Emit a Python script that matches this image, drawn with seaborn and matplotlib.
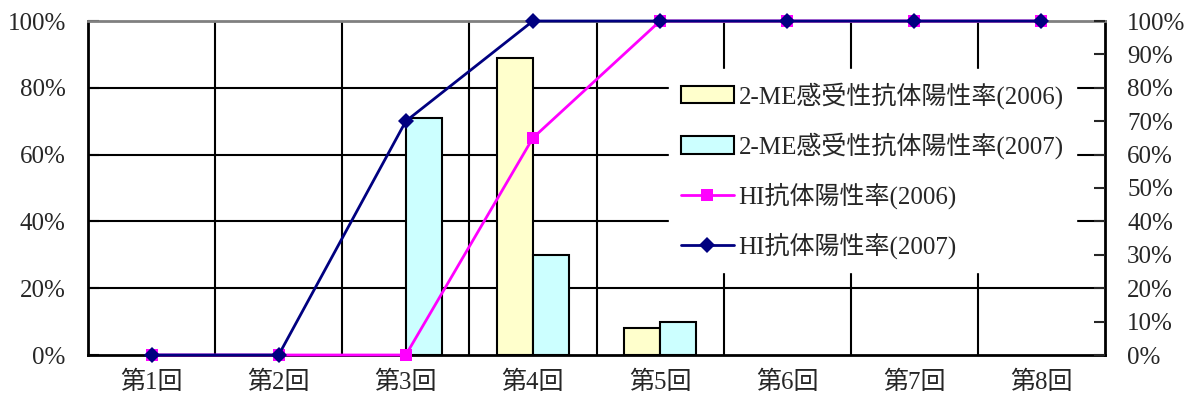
import numpy as np
import pandas as pd
import matplotlib
matplotlib.use("Agg")
import matplotlib.pyplot as plt
from matplotlib.ticker import PercentFormatter, FixedLocator
import seaborn as sns

# データ
rounds = ["第1回", "第2回", "第3回", "第4回", "第5回", "第6回", "第7回", "第8回"]
me_labels = ["2-ME感受性抗体陽性率(2006)", "2-ME感受性抗体陽性率(2007)"]
me_2006 = [np.nan, np.nan, np.nan, 89, 8, np.nan, np.nan, np.nan]
me_2007 = [np.nan, np.nan, 71, 30, 10, np.nan, np.nan, np.nan]
hi_labels = ["HI抗体陽性率(2006)", "HI抗体陽性率(2007)"]
hi_2006 = [0, 0, 0, 65, 100, 100, 100, 100]
hi_2007 = [0, 0, 70, 100, 100, 100, 100, 100]

sns.set_style("white")
plt.rcParams["font.family"] = ["Liberation Serif", "Noto Sans CJK JP"]
plt.rcParams["font.size"] = 18

df = pd.DataFrame({
    "round": rounds * 2,
    "series": [me_labels[0]] * len(rounds) + [me_labels[1]] * len(rounds),
    "value": me_2006 + me_2007,
}).dropna()

fig, ax = plt.subplots(figsize=(11.93, 4.03), dpi=100)
fig.subplots_adjust(left=88 / 1193, right=1105 / 1193, bottom=48 / 403, top=382 / 403)

sns.barplot(data=df, x="round", y="value", hue="series", order=rounds,
            hue_order=me_labels, palette=["#FFFFCC", "#CCFFFF"], saturation=1,
            width=0.57, errorbar=None, edgecolor="black", linewidth=1.5,
            ax=ax, zorder=3)
bar_h, bar_l = ax.get_legend_handles_labels()
ax.get_legend().remove()

ax.set_ylim(0, 100)
ax.set_xlim(-0.5, len(rounds) - 0.5)
ax.set_xlabel("")
ax.set_ylabel("")
ax.yaxis.set_major_locator(FixedLocator([0, 20, 40, 60, 80, 100]))
ax.yaxis.set_major_formatter(PercentFormatter(decimals=0))
ax.tick_params(axis="y", direction="in", length=8, width=1.5, pad=16, labelsize=18)
ax.tick_params(axis="x", length=0, pad=11, labelsize=18)

# グリッド
for b in np.arange(0.5, len(rounds) - 0.5, 1):
    ax.axvline(b, color="black", lw=1.5, zorder=1)
for g in [20, 40, 60, 80]:
    ax.axhline(g, color="black", lw=1.5, zorder=1)

for s in ["left", "bottom", "right"]:
    ax.spines[s].set_color("black")
    ax.spines[s].set_linewidth(2)
ax.spines["top"].set_color("#808080")
ax.spines["top"].set_linewidth(2)

ax2 = ax.twinx()
xpos = np.arange(len(rounds))
sns.lineplot(x=xpos, y=hi_2006, ax=ax2, color="#FF00FF", marker="s",
             markersize=9, markeredgewidth=0, linewidth=2, label=hi_labels[0],
             clip_on=False, zorder=4)
sns.lineplot(x=xpos, y=hi_2007, ax=ax2, color="#000080", marker="D",
             markersize=8, markeredgewidth=0, linewidth=2, label=hi_labels[1],
             clip_on=False, zorder=5)
line_h, line_l = ax2.get_legend_handles_labels()
ax2.get_legend().remove()

ax2.set_ylim(0, 100)
ax2.set_xlim(-0.5, len(rounds) - 0.5)
ax2.set_ylabel("")
ax2.yaxis.set_major_locator(FixedLocator(np.arange(0, 101, 10)))
ax2.yaxis.set_major_formatter(PercentFormatter(decimals=0))
ax2.tick_params(axis="y", direction="in", length=8, width=1.5, pad=16, labelsize=18)
for s in ax2.spines.values():
    s.set_visible(False)

leg = ax2.legend(bar_h + line_h, bar_l + line_l, loc="upper right",
                 bbox_to_anchor=(0.984, 0.893), frameon=True, fancybox=False,
                 framealpha=1, edgecolor="white", facecolor="white",
                 labelspacing=0.95, handlelength=2.1, handletextpad=0.2,
                 borderpad=0.5, fontsize=18)
leg.set_zorder(10)

fig.savefig("out.png", dpi=100)
